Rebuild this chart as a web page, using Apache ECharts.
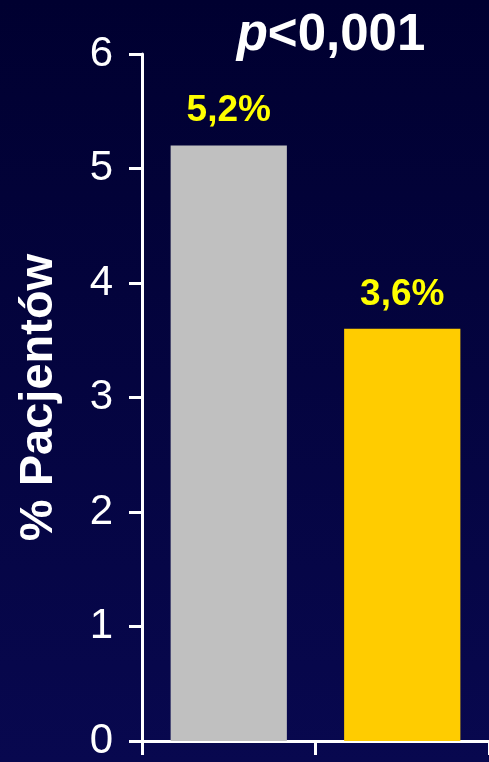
<!DOCTYPE html>
<html><head><meta charset="utf-8">
<script src="https://cdn.jsdelivr.net/npm/echarts@6/dist/echarts.min.js"></script>
<style>html,body{margin:0;padding:0;overflow:hidden;background:#000033}#c{width:489px;height:762px}</style>
</head><body><div id="c"></div>
<script>
const categories = ['A', 'B'];
const values = [5.2, 3.6];
const valueLabels = ['5,2%', '3,6%'];
const barColors = ['#C0C0C0', '#FFCC00'];
const yTicks = [0, 1, 2, 3, 4, 5, 6];
const yAxisName = '% Pacjentów';
const titleP = 'p';
const titleRest = '<0,001';

const FONT = '"Liberation Sans", Arial, sans-serif';
const chart = echarts.init(document.getElementById('c'), null, {renderer: 'canvas'});
chart.setOption({
  backgroundColor: {
    type: 'linear', x: 0, y: 0, x2: 0, y2: 1,
    colorStops: [{offset: 0, color: '#000030'}, {offset: 1, color: '#08084f'}]
  },
  animation: false,
  title: {
    text: '{i|' + titleP + '}{n|' + titleRest + '}',
    left: 326, top: 5, textAlign: 'center',
    textStyle: {
      rich: {
        i: {fontFamily: FONT, fontSize: 51, fontWeight: 'bold', fontStyle: 'italic', color: '#fff'},
        n: {fontFamily: FONT, fontSize: 51, fontWeight: 'bold', color: '#fff'}
      }
    }
  },
  grid: {left: 142, top: 54, width: 352, height: 692, containLabel: false},
  xAxis: {
    type: 'category', data: categories,
    axisLine: {lineStyle: {color: '#fff', width: 3}},
    axisTick: {show: true, length: 14, lineStyle: {color: '#fff', width: 3}},
    axisLabel: {show: false}
  },
  yAxis: {
    type: 'value', min: yTicks[0], max: yTicks[yTicks.length - 1], interval: 1,
    name: yAxisName, nameLocation: 'middle', nameGap: 79, nameRotate: 90,
    nameTextStyle: {fontFamily: FONT, fontSize: 47, fontWeight: 'bold', color: '#fff'},
    axisLine: {show: true, lineStyle: {color: '#fff', width: 3}},
    axisTick: {show: true, length: 13, lineStyle: {color: '#fff', width: 3}},
    axisLabel: {fontFamily: FONT, fontSize: 42, color: '#fff', margin: 29},
    splitLine: {show: false}
  },
  series: [{
    type: 'bar', barWidth: '67%',
    data: values.map((v, i) => ({value: v, itemStyle: {color: barColors[i]}})),
    label: {
      show: true, position: 'top', distance: 16,
      formatter: p => valueLabels[p.dataIndex],
      fontFamily: FONT, fontSize: 37, fontWeight: 'bold', color: '#FFFF00'
    }
  }]
});
</script></body></html>
